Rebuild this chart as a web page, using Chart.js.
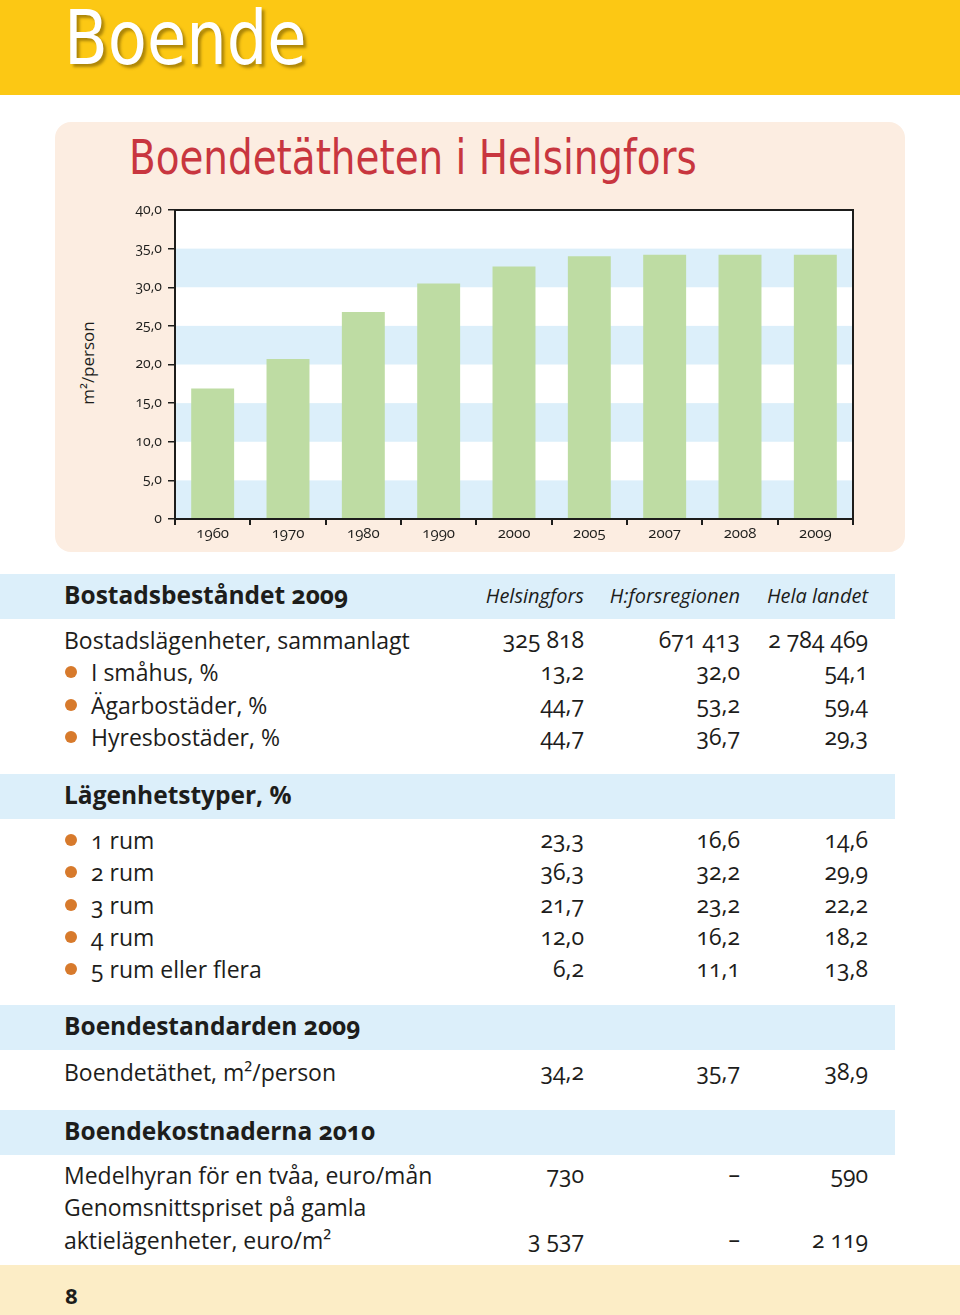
<!DOCTYPE html>
<html>
<head>
<meta charset="utf-8">
<script src="https://cdn.jsdelivr.net/npm/chart.js@4"></script>
<style>
  html, body { margin: 0; padding: 0; }
  body { width: 960px; height: 1315px; position: relative; background: #fff; overflow: hidden;
         font-family: "Open Sans", "Noto Sans", sans-serif; color: #1d1d1b; font-variant-numeric: oldstyle-nums; }
  .abs { position: absolute; white-space: nowrap; }
  #topbar { left: 0; top: 0; width: 960px; height: 95px; background: #fcc814; }
  #pagetitle { left: 64px; top: -5px; font-family: "Liberation Sans Narrow", "DejaVu Sans Condensed", sans-serif;
               font-size: 74px; color: #fff; transform: scaleX(0.96); transform-origin: left top;
               text-shadow: 3px 3px 3px rgba(120, 90, 0, 0.6); }
  #panel { left: 55px; top: 122px; width: 850px; height: 430px; background: #fcede1; border-radius: 16px; }
  #charttitle { left: 129px; top: 129px; font-family: "Liberation Sans Narrow", "DejaVu Sans Condensed", sans-serif;
                font-size: 48px; color: #c8363f; transform: scaleX(0.9); transform-origin: left top; }
  #ytitle { left: 87px; top: 363px; font-size: 17px; transform: translate(-50%, -50%) rotate(-90deg); }
  #chartbox { left: 55px; top: 195px; }
  .band { left: 0; width: 895px; background: #dceffa; }
  .head { font-size: 24.5px; font-weight: 700; line-height: 32px; }
  .colhead { font-size: 20px; font-style: italic; line-height: 32px; }
  .cell { font-size: 23px; line-height: 32px; }
  .num { text-align: right; }
  .dot { width: 12px; height: 12px; border-radius: 50%; background: #d77a2c; }
  #footer { left: 0; top: 1265px; width: 960px; height: 50px; background: #fcedc6; }
  #pagenum { left: 65px; top: 1279px; font-size: 22px; font-weight: 700; line-height: 32px; }
</style>
</head>
<body>
<div id="topbar" class="abs"></div>
<div id="pagetitle" class="abs">Boende</div>
<div id="panel" class="abs"></div>
<div id="charttitle" class="abs">Boendetätheten i Helsingfors</div>
<div id="ytitle" class="abs">m²/person</div>
<div id="chartbox" class="abs"><canvas id="chart" width="850" height="357"></canvas></div>
<div id="footer" class="abs"></div>
<div id="pagenum" class="abs">8</div>

<script>
// chart data
const years = ["1960", "1970", "1980", "1990", "2000", "2005", "2007", "2008", "2009"];
const density = [16.9, 20.7, 26.8, 30.5, 32.7, 34.0, 34.2, 34.2, 34.2];
const yMax = 40;
const yStep = 5;

// table data
const columns = ["Helsingfors", "H:forsregionen", "Hela landet"];

const stockTitle = "Bostadsbeståndet 2009";
const stockLabels = ["Bostadslägenheter, sammanlagt", "I småhus, %", "Ägarbostäder, %", "Hyresbostäder, %"];
const stockBullets = [false, true, true, true];
const stockHelsingfors = ["325 818", "13,2", "44,7", "44,7"];
const stockRegion = ["671 413", "32,0", "53,2", "36,7"];
const stockCountry = ["2 784 469", "54,1", "59,4", "29,3"];

const typesTitle = "Lägenhetstyper, %";
const typesLabels = ["1 rum", "2 rum", "3 rum", "4 rum", "5 rum eller flera"];
const typesHelsingfors = ["23,3", "36,3", "21,7", "12,0", "6,2"];
const typesRegion = ["16,6", "32,2", "23,2", "16,2", "11,1"];
const typesCountry = ["14,6", "29,9", "22,2", "18,2", "13,8"];

const standardTitle = "Boendestandarden 2009";
const standardLabels = ["Boendetäthet, m²/person"];
const standardHelsingfors = ["34,2"];
const standardRegion = ["35,7"];
const standardCountry = ["38,9"];

const costTitle = "Boendekostnaderna 2010";
const costLabels = ["Medelhyran för en tvåa, euro/mån", "Genomsnittspriset på gamla", "aktielägenheter, euro/m²"];
const costHelsingfors = ["730", "", "3 537"];
const costRegion = ["–", "", "–"];
const costCountry = ["590", "", "2 119"];

// ---- table ----
const colRight = [584, 740, 868];

function addDiv(cls, text, style) {
  const d = document.createElement("div");
  d.className = "abs " + cls;
  if (text !== undefined) d.textContent = text;
  Object.assign(d.style, style);
  document.body.appendChild(d);
  return d;
}

function section(bandTop, title, showColumns, labels, bullets, h, r, c, rowTops) {
  addDiv("band", undefined, { top: bandTop + "px", height: "45px" });
  addDiv("head", title, { left: "64px", top: (bandTop + 5) + "px" });
  if (showColumns) {
    columns.forEach((col, i) => {
      addDiv("colhead num", col, { right: (960 - colRight[i]) + "px", top: (bandTop + 6) + "px" });
    });
  }
  labels.forEach((lab, i) => {
    const top = rowTops[i];
    const bullet = bullets && bullets[i];
    if (bullet) addDiv("dot", undefined, { left: "65px", top: (top + 10) + "px" });
    addDiv("cell", lab, { left: (bullet ? 91 : 64) + "px", top: top + "px" });
    [h, r, c].forEach((vals, j) => {
      if (vals[i]) addDiv("cell num", vals[i], { right: (960 - colRight[j]) + "px", top: (top - 1) + "px" });
    });
  });
}

section(574, stockTitle, true, stockLabels, stockBullets,
  stockHelsingfors, stockRegion, stockCountry, [624, 656, 689, 721]);
section(774, typesTitle, false, typesLabels, typesLabels.map(() => true),
  typesHelsingfors, typesRegion, typesCountry, [824, 856, 889, 921, 953]);
section(1005, standardTitle, false, standardLabels, null,
  standardHelsingfors, standardRegion, standardCountry, [1056]);
section(1110, costTitle, false, costLabels, null,
  costHelsingfors, costRegion, costCountry, [1159, 1191, 1224]);

// ---- chart ----
const stripes = {
  id: "stripes",
  beforeDatasetsDraw(chart) {
    const { ctx, chartArea: a, scales: { y } } = chart;
    ctx.save();
    ctx.fillStyle = "#ffffff";
    ctx.fillRect(a.left, a.top, a.right - a.left, a.bottom - a.top);
    ctx.fillStyle = "#dceffa";
    for (let v = 0; v < yMax; v += 2 * yStep) {
      const top = y.getPixelForValue(v + yStep);
      const bot = y.getPixelForValue(v);
      ctx.fillRect(a.left, top, a.right - a.left, bot - top);
    }
    ctx.restore();
  },
  afterDatasetsDraw(chart) {
    const { ctx, chartArea: a } = chart;
    ctx.save();
    ctx.strokeStyle = "#1d1d1b";
    ctx.lineWidth = 2;
    ctx.strokeRect(a.left, a.top, a.right - a.left, a.bottom - a.top);
    ctx.restore();
  },
};

new Chart(document.getElementById("chart"), {
  type: "bar",
  data: {
    labels: years,
    datasets: [{
      data: density,
      backgroundColor: "#bedca3",
      borderWidth: 0,
      categoryPercentage: 1,
      barPercentage: 0.57,
    }],
  },
  options: {
    responsive: false,
    animation: false,
    layout: { padding: { left: 0, top: 15, right: 52, bottom: 0 } },
    plugins: { legend: { display: false }, tooltip: { enabled: false } },
    scales: {
      x: {
        afterFit(scale) { scale.height = 33; },
        border: { display: false },
        grid: { offset: true, drawOnChartArea: false, drawTicks: true, tickLength: 6, color: "#1d1d1b", lineWidth: 2 },
        ticks: { color: "#1d1d1b", font: { family: "Open Sans", size: 15 }, padding: 0, maxRotation: 0 },
      },
      y: {
        min: 0,
        max: yMax,
        afterFit(scale) { scale.width = 120; },
        border: { display: false },
        grid: { drawOnChartArea: false, drawTicks: true, tickLength: 7, color: "#1d1d1b", lineWidth: 1.5 },
        ticks: {
          stepSize: yStep,
          color: "#1d1d1b",
          font: { family: "Open Sans", size: 14 },
          padding: 6,
          callback: (v) => (v === 0 ? "0" : v.toFixed(1).replace(".", ",")),
        },
      },
    },
  },
  plugins: [stripes],
});
</script>
</body>
</html>
